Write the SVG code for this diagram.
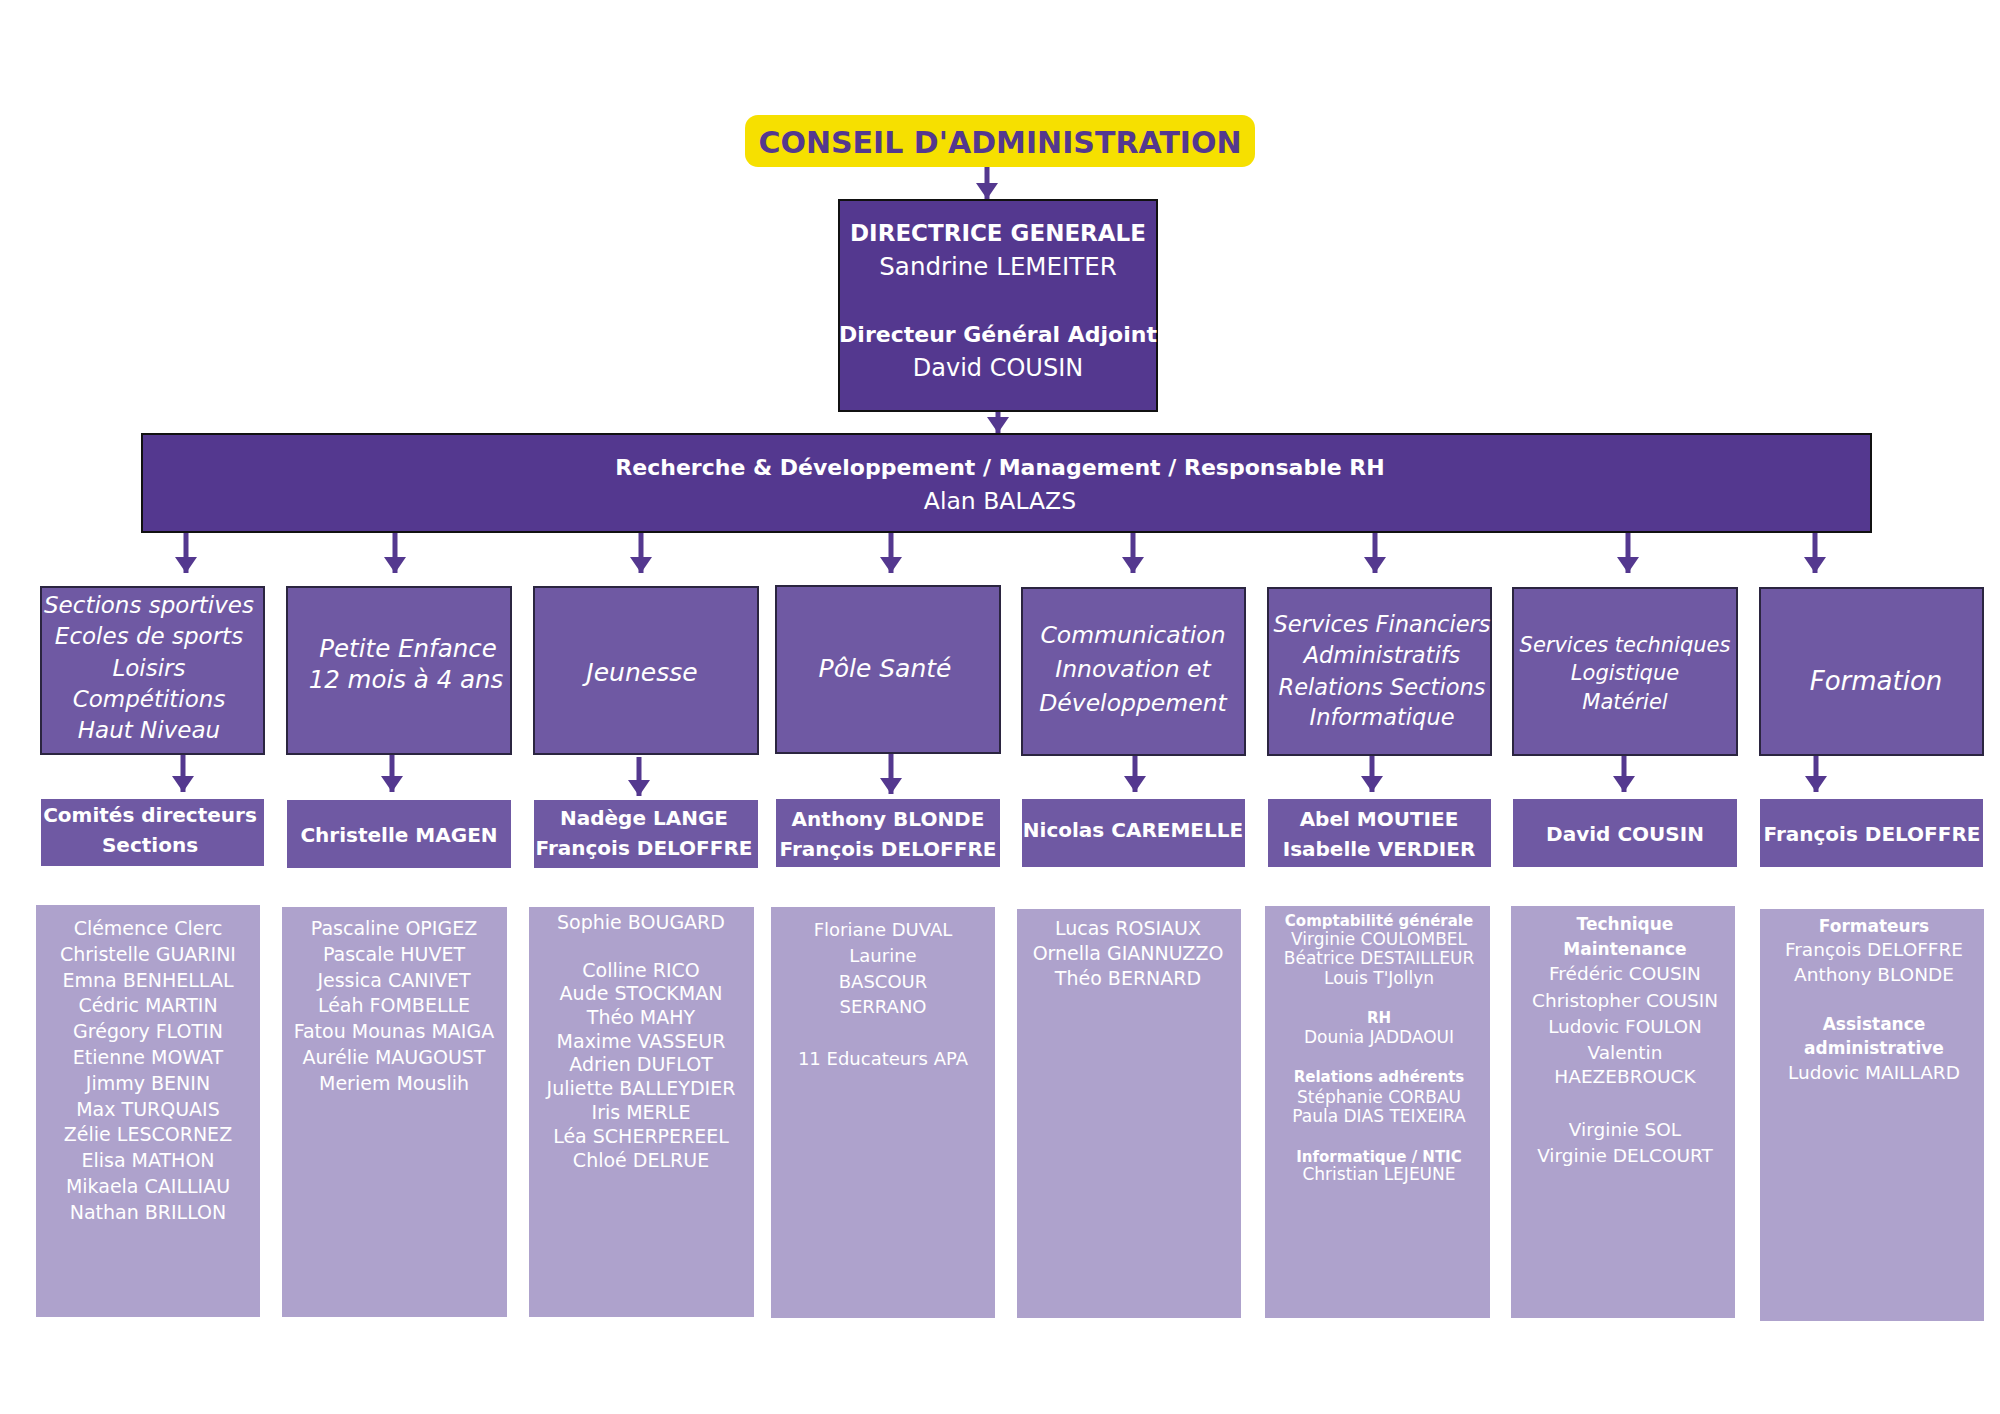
<svg xmlns="http://www.w3.org/2000/svg" width="2000" height="1414" viewBox="0 0 2000 1414">
<defs>
<style>
.t{font-family:"DejaVu Sans","Liberation Sans",sans-serif;fill:#ffffff;text-anchor:middle}
.b{font-weight:bold}
.i{font-style:italic}
.dark{fill:#54388f}
.cat{fill:#6f59a3;stroke:#2b2540;stroke-width:2}
.name{fill:#6f59a3}
.col{fill:#aea2cc}
.arr{stroke:#54388f;stroke-width:5;fill:none;marker-end:url(#ah)}
</style>
<marker id="ah" markerUnits="userSpaceOnUse" viewBox="0 0 16 22" refX="16" refY="11" markerWidth="16" markerHeight="22" orient="auto">
<path d="M0,0 L16,11 L0,22 z" fill="#54388f"/>
</marker>
</defs>
<rect width="2000" height="1414" fill="#ffffff"/>

<g id="connectors">
<line class="arr" x1="987" y1="167" x2="987" y2="199"/>
<line class="arr" x1="998" y1="411" x2="998" y2="433"/>
<line class="arr" x1="186" y1="533" x2="186" y2="573"/>
<line class="arr" x1="395" y1="533" x2="395" y2="573"/>
<line class="arr" x1="641" y1="533" x2="641" y2="573"/>
<line class="arr" x1="891" y1="533" x2="891" y2="573"/>
<line class="arr" x1="1133" y1="533" x2="1133" y2="573"/>
<line class="arr" x1="1375" y1="533" x2="1375" y2="573"/>
<line class="arr" x1="1628" y1="533" x2="1628" y2="573"/>
<line class="arr" x1="1815" y1="533" x2="1815" y2="573"/>
<line class="arr" x1="183" y1="754" x2="183" y2="792"/>
<line class="arr" x1="392" y1="754" x2="392" y2="792"/>
<line class="arr" x1="639" y1="757" x2="639" y2="796"/>
<line class="arr" x1="891" y1="754" x2="891" y2="794"/>
<line class="arr" x1="1135" y1="755" x2="1135" y2="792"/>
<line class="arr" x1="1372" y1="755" x2="1372" y2="792"/>
<line class="arr" x1="1624" y1="755" x2="1624" y2="792"/>
<line class="arr" x1="1816" y1="755" x2="1816" y2="792"/>
</g>

<g id="conseil">
<rect x="745" y="115" width="510" height="52" rx="13" fill="#f6e000"/>
<text class="t b" x="1000" y="153" font-size="30" style="fill:#54388f">CONSEIL D'ADMINISTRATION</text>
</g>

<g id="direction">
<rect x="839" y="200" width="318" height="211" class="dark" stroke="#111" stroke-width="2"/>
<text class="t b" x="998" y="241" font-size="23">DIRECTRICE GENERALE</text>
<text class="t" x="998" y="275" font-size="24.5">Sandrine LEMEITER</text>
<text class="t b" x="998" y="342" font-size="22">Directeur Général Adjoint</text>
<text class="t" x="998" y="376" font-size="24">David COUSIN</text>
</g>

<g id="rd-management">
<rect x="142" y="434" width="1729" height="98" class="dark" stroke="#111" stroke-width="2"/>
<text class="t b" x="1000" y="475" font-size="22">Recherche &amp; Développement / Management / Responsable RH</text>
<text class="t" x="1000" y="509" font-size="23.5">Alan BALAZS</text>
</g>

<g id="sections-sportives">
<rect class="cat" x="41" y="587" width="223" height="167"/>
<text class="t i" font-size="23"><tspan x="149" y="613">Sections sportives</tspan><tspan x="149" y="644">Ecoles de sports</tspan><tspan x="149" y="676">Loisirs</tspan><tspan x="149" y="707">Compétitions</tspan><tspan x="149" y="738">Haut Niveau</tspan></text>
</g>
<g id="petite-enfance">
<rect class="cat" x="287" y="587" width="224" height="167"/>
<text class="t i" font-size="24.5"><tspan x="408" y="657">Petite Enfance</tspan><tspan x="406" y="688">12 mois à 4 ans</tspan></text>
</g>
<g id="jeunesse">
<rect class="cat" x="534" y="587" width="224" height="167"/>
<text class="t i" x="642" y="681" font-size="25">Jeunesse</text>
</g>
<g id="pole-sante">
<rect class="cat" x="776" y="586" width="224" height="167"/>
<text class="t i" x="885" y="677" font-size="25">Pôle Santé</text>
</g>
<g id="communication">
<rect class="cat" x="1022" y="588" width="223" height="167"/>
<text class="t i" font-size="23.5"><tspan x="1133" y="643">Communication</tspan><tspan x="1133" y="677">Innovation et</tspan><tspan x="1133" y="711">Développement</tspan></text>
</g>
<g id="services-financiers">
<rect class="cat" x="1268" y="588" width="223" height="167"/>
<text class="t i" font-size="22.5"><tspan x="1382" y="632">Services Financiers</tspan><tspan x="1382" y="663">Administratifs</tspan><tspan x="1382" y="695">Relations Sections</tspan><tspan x="1382" y="725">Informatique</tspan></text>
</g>
<g id="services-techniques">
<rect class="cat" x="1513" y="588" width="224" height="167"/>
<text class="t i" font-size="21"><tspan x="1625" y="652">Services techniques</tspan><tspan x="1625" y="680">Logistique</tspan><tspan x="1625" y="709">Matériel</tspan></text>
</g>
<g id="formation">
<rect class="cat" x="1760" y="588" width="223" height="167"/>
<text class="t i" x="1876" y="690" font-size="26">Formation</text>
</g>

<g id="resp-sections">
<rect class="name" x="41" y="799" width="223" height="67"/>
<text class="t b" font-size="20"><tspan x="150" y="822">Comités directeurs</tspan><tspan x="150" y="852">Sections</tspan></text>
</g>
<g id="resp-petite-enfance">
<rect class="name" x="287" y="800" width="224" height="68"/>
<text class="t b" x="399" y="842" font-size="20">Christelle MAGEN</text>
</g>
<g id="resp-jeunesse">
<rect class="name" x="534" y="800" width="224" height="68"/>
<text class="t b" font-size="20"><tspan x="644" y="825">Nadège LANGE</tspan><tspan x="644" y="855">François DELOFFRE</tspan></text>
</g>
<g id="resp-sante">
<rect class="name" x="776" y="799" width="224" height="68"/>
<text class="t b" font-size="20"><tspan x="888" y="826">Anthony BLONDE</tspan><tspan x="888" y="856">François DELOFFRE</tspan></text>
</g>
<g id="resp-communication">
<rect class="name" x="1022" y="799" width="223" height="68"/>
<text class="t b" x="1133" y="837" font-size="20">Nicolas CAREMELLE</text>
</g>
<g id="resp-financiers">
<rect class="name" x="1268" y="799" width="223" height="68"/>
<text class="t b" font-size="20"><tspan x="1379" y="826">Abel MOUTIEE</tspan><tspan x="1379" y="856">Isabelle VERDIER</tspan></text>
</g>
<g id="resp-techniques">
<rect class="name" x="1513" y="799" width="224" height="68"/>
<text class="t b" x="1625" y="841" font-size="20">David COUSIN</text>
</g>
<g id="resp-formation">
<rect class="name" x="1760" y="799" width="223" height="68"/>
<text class="t b" x="1872" y="841" font-size="20">François DELOFFRE</text>
</g>

<g id="equipe-sections">
<rect class="col" x="36" y="905" width="224" height="412"/>
<text class="t" font-size="19"><tspan x="148" y="935">Clémence Clerc</tspan><tspan x="148" y="961">Christelle GUARINI</tspan><tspan x="148" y="987">Emna BENHELLAL</tspan><tspan x="148" y="1012">Cédric MARTIN</tspan><tspan x="148" y="1038">Grégory FLOTIN</tspan><tspan x="148" y="1064">Etienne MOWAT</tspan><tspan x="148" y="1090">Jimmy BENIN</tspan><tspan x="148" y="1116">Max TURQUAIS</tspan><tspan x="148" y="1141">Zélie LESCORNEZ</tspan><tspan x="148" y="1167">Elisa MATHON</tspan><tspan x="148" y="1193">Mikaela CAILLIAU</tspan><tspan x="148" y="1219">Nathan BRILLON</tspan></text>
</g>
<g id="equipe-petite-enfance">
<rect class="col" x="282" y="907" width="225" height="410"/>
<text class="t" font-size="19"><tspan x="394" y="935">Pascaline OPIGEZ</tspan><tspan x="394" y="961">Pascale HUVET</tspan><tspan x="394" y="987">Jessica CANIVET</tspan><tspan x="394" y="1012">Léah FOMBELLE</tspan><tspan x="394" y="1038">Fatou Mounas MAIGA</tspan><tspan x="394" y="1064">Aurélie MAUGOUST</tspan><tspan x="394" y="1090">Meriem Mouslih</tspan></text>
</g>
<g id="equipe-jeunesse">
<rect class="col" x="529" y="907" width="225" height="410"/>
<text class="t" font-size="19"><tspan x="641" y="929">Sophie BOUGARD</tspan><tspan x="641" y="977">Colline RICO</tspan><tspan x="641" y="1000">Aude STOCKMAN</tspan><tspan x="641" y="1024">Théo MAHY</tspan><tspan x="641" y="1048">Maxime VASSEUR</tspan><tspan x="641" y="1071">Adrien DUFLOT</tspan><tspan x="641" y="1095">Juliette BALLEYDIER</tspan><tspan x="641" y="1119">Iris MERLE</tspan><tspan x="641" y="1143">Léa SCHERPEREEL</tspan><tspan x="641" y="1167">Chloé DELRUE</tspan></text>
</g>
<g id="equipe-sante">
<rect class="col" x="771" y="907" width="224" height="411"/>
<text class="t" font-size="18"><tspan x="883" y="936">Floriane DUVAL</tspan><tspan x="883" y="962">Laurine</tspan><tspan x="883" y="988">BASCOUR</tspan><tspan x="883" y="1013">SERRANO</tspan><tspan x="883" y="1065">11 Educateurs APA</tspan></text>
</g>
<g id="equipe-communication">
<rect class="col" x="1017" y="909" width="224" height="409"/>
<text class="t" font-size="19"><tspan x="1128" y="935">Lucas ROSIAUX</tspan><tspan x="1128" y="960">Ornella GIANNUZZO</tspan><tspan x="1128" y="985">Théo BERNARD</tspan></text>
</g>
<g id="equipe-financiers">
<rect class="col" x="1265" y="906" width="225" height="412"/>
<text class="t" font-size="17"><tspan x="1379" y="926" class="b" font-size="15">Comptabilité générale</tspan><tspan x="1379" y="945">Virginie COULOMBEL</tspan><tspan x="1379" y="964">Béatrice DESTAILLEUR</tspan><tspan x="1379" y="984">Louis T'Jollyn</tspan><tspan x="1379" y="1023" class="b" font-size="15">RH</tspan><tspan x="1379" y="1043">Dounia JADDAOUI</tspan><tspan x="1379" y="1082" class="b" font-size="15">Relations adhérents</tspan><tspan x="1379" y="1103">Stéphanie CORBAU</tspan><tspan x="1379" y="1122">Paula DIAS TEIXEIRA</tspan><tspan x="1379" y="1162" class="b" font-size="15">Informatique / NTIC</tspan><tspan x="1379" y="1180">Christian LEJEUNE</tspan></text>
</g>
<g id="equipe-techniques">
<rect class="col" x="1511" y="906" width="224" height="412"/>
<text class="t" font-size="18.5"><tspan x="1625" y="930" class="b" font-size="17">Technique</tspan><tspan x="1625" y="955" class="b" font-size="17">Maintenance</tspan><tspan x="1625" y="980">Frédéric COUSIN</tspan><tspan x="1625" y="1007">Christopher COUSIN</tspan><tspan x="1625" y="1033">Ludovic FOULON</tspan><tspan x="1625" y="1059">Valentin</tspan><tspan x="1625" y="1083">HAEZEBROUCK</tspan><tspan x="1625" y="1136">Virginie SOL</tspan><tspan x="1625" y="1162">Virginie DELCOURT</tspan></text>
</g>
<g id="equipe-formation">
<rect class="col" x="1760" y="909" width="224" height="412"/>
<text class="t" font-size="18.5"><tspan x="1874" y="932" class="b" font-size="17">Formateurs</tspan><tspan x="1874" y="956">François DELOFFRE</tspan><tspan x="1874" y="981">Anthony BLONDE</tspan><tspan x="1874" y="1030" class="b" font-size="17">Assistance</tspan><tspan x="1874" y="1054" class="b" font-size="17">administrative</tspan><tspan x="1874" y="1079">Ludovic MAILLARD</tspan></text>
</g>
</svg>
